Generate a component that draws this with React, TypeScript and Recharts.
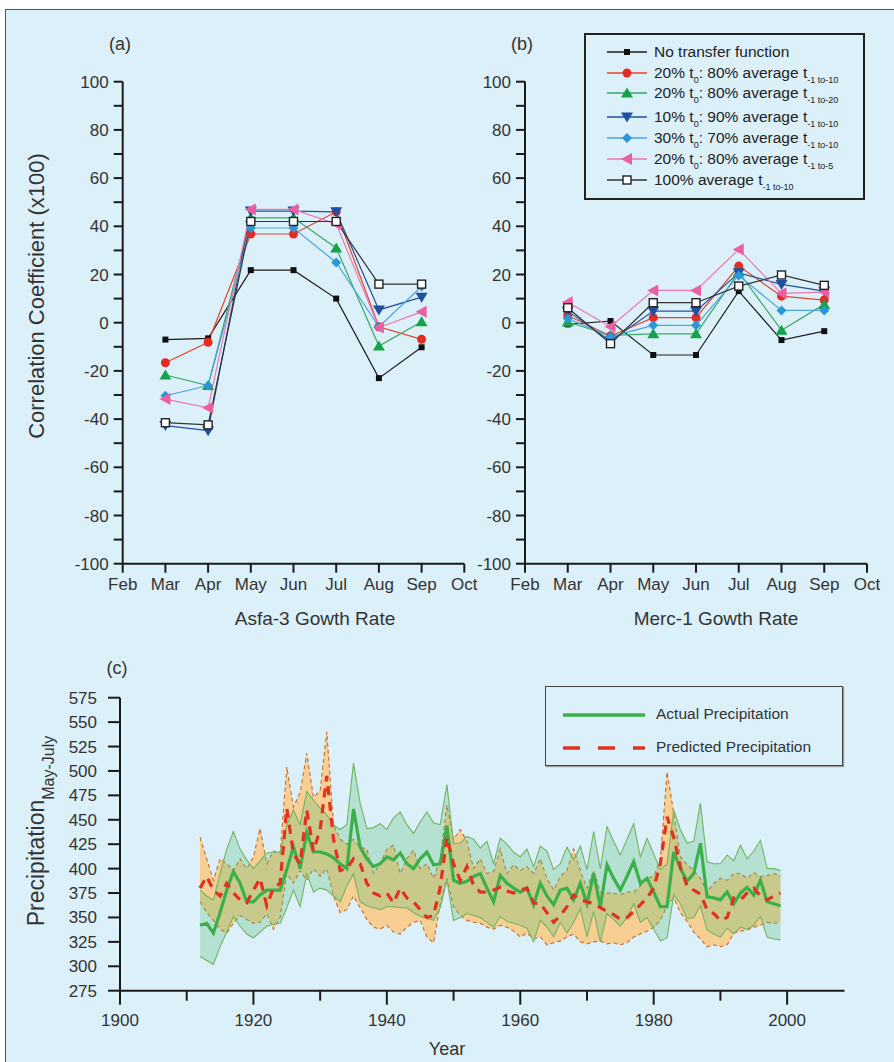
import React from 'react';
import { LineChart, Line, XAxis, YAxis, ComposedChart, Area } from 'recharts';

const FONT = '"Liberation Sans", Arial, sans-serif';
const BG = '#dcf0fa';

// ---- panels (a) and (b): correlation by month ----
const monthNames = ['Feb', 'Mar', 'Apr', 'May', 'Jun', 'Jul', 'Aug', 'Sep', 'Oct'];
const monthTicks = [2, 3, 4, 5, 6, 7, 8, 9, 10];
const months = [3, 4, 5, 6, 7, 8, 9];
const corrTicks = [-100, -90, -80, -70, -60, -50, -40, -30, -20, -10, 0, 10, 20, 30, 40, 50, 60, 70, 80, 90, 100];

const asfaNoTF = [-7, -6.5, 21.8, 21.8, 10, -23, -10.2];
const asfaT10 = [-16.6, -8.1, 36.8, 36.8, 46, -1.7, -6.9];
const asfaT20 = [-21.7, -26.1, 43.5, 43.5, 31, -9.7, 0.4];
const asfa10_90 = [-42.7, -44.8, 46.3, 46.3, 46, 5.3, 10.6];
const asfa30_70 = [-30.3, -26.1, 39.3, 39.3, 25, -1.7, 15];
const asfaT5 = [-31.7, -35.3, 47, 47, 41, -2, 4.5];
const asfaAvg = [-41.5, -42.4, 42, 42, 42, 16, 16];

const mercNoTF = [-0.7, 0.7, -13.4, -13.4, 13.1, -7.2, -3.5];
const mercT10 = [3, -5.5, 2.1, 2.1, 23.5, 11, 9.4];
const mercT20 = [0.3, -5.3, -4.6, -4.6, 21, -3.1, 7.6];
const merc10_90 = [4.8, -7.6, 4.8, 4.8, 20.7, 15.9, 13.1];
const merc30_70 = [1.7, -5.8, -1.1, -1.1, 19.6, 5.1, 5.1];
const mercT5 = [8.5, -1.7, 13.4, 13.4, 30.4, 12.2, 12.7];
const mercAvg = [6.2, -8.7, 8.3, 8.3, 15.2, 19.8, 15.5];

// ---- panel (c): precipitation ----
const years = [
  1912, 1913, 1914, 1915, 1916, 1917, 1918, 1919,
  1920, 1921, 1922, 1923, 1924, 1925, 1926, 1927, 1928, 1929,
  1930, 1931, 1932, 1933, 1934, 1935, 1936, 1937, 1938, 1939,
  1940, 1941, 1942, 1943, 1944, 1945, 1946, 1947, 1948, 1949,
  1950, 1951, 1952, 1953, 1954, 1955, 1956, 1957, 1958, 1959,
  1960, 1961, 1962, 1963, 1964, 1965, 1966, 1967, 1968, 1969,
  1970, 1971, 1972, 1973, 1974, 1975, 1976, 1977, 1978, 1979,
  1980, 1981, 1982, 1983, 1984, 1985, 1986, 1987, 1988, 1989,
  1990, 1991, 1992, 1993, 1994, 1995, 1996, 1997, 1998, 1999,
];
const actual = [
  342, 344, 334, 355, 378, 397, 385, 366,
  366, 373, 378, 378, 378, 399, 422, 400, 437, 417,
  417, 415, 411, 405, 400, 461, 422, 410, 402, 405,
  412, 409, 416, 405, 400, 410, 417, 404, 405, 444,
  388, 385, 387, 392, 395, 380, 366, 393, 385, 380,
  376, 380, 363, 385, 372, 363, 378, 380, 368, 385,
  364, 395, 361, 404, 390, 378, 392, 407, 385, 390,
  376, 361, 361, 417, 400, 387, 395, 426, 371, 370,
  368, 376, 364, 375, 381, 373, 388, 366, 364, 362,
];
const actualHi = [
  378, 372, 368, 395, 420, 438, 420, 409,
  400, 408, 416, 417, 417, 445, 460, 445, 479, 470,
  462, 455, 445, 440, 445, 508, 467, 441, 442, 446,
  440, 452, 458, 445, 436, 448, 458, 447, 445, 486,
  426, 426, 433, 430, 421, 428, 405, 431, 425, 417,
  412, 420, 402, 423, 418, 399, 405, 422, 409, 423,
  399, 438, 400, 443, 428, 414, 430, 446, 412, 431,
  415, 399, 405, 460, 440, 426, 428, 467, 407, 405,
  405, 414, 408, 424, 410, 418, 429, 400, 400, 398,
];
const actualLo = [
  310, 306, 302, 320, 335, 351, 341, 333,
  329, 335, 341, 343, 344, 360, 378, 361, 395, 376,
  380, 378, 372, 366, 382, 395, 366, 362, 360, 358,
  361, 361, 360, 360, 355, 351, 349, 347, 360, 388,
  347, 350, 354, 352, 350, 345, 340, 351, 346, 344,
  342, 339, 325, 347, 340, 330, 345, 334, 345, 359,
  330, 356, 325, 354, 348, 341, 350, 364, 345, 350,
  338, 326, 329, 373, 364, 349, 350, 362, 337, 333,
  330, 339, 333, 340, 338, 342, 351, 330, 328, 327,
];
const predicted = [
  380, 392, 378, 372, 385, 375, 368, 365,
  378, 390, 362, 380, 385, 462, 415, 405, 460, 418,
  440, 495, 430, 398, 400, 410, 405, 385, 375, 372,
  375, 365, 380, 370, 366, 358, 350, 352, 381, 432,
  405, 388, 402, 383, 376, 376, 378, 381, 377, 375,
  378, 380, 365, 364, 355, 345, 352, 361, 373, 368,
  366, 364, 360, 356, 353, 348, 350, 356, 363, 370,
  380, 405, 453, 432, 402, 382, 378, 374, 358, 354,
  347, 350, 370, 368, 375, 380, 372, 368, 372, 375,
];
const predictedHi = [
  432, 410, 388, 410, 405, 398, 410, 400,
  412, 441, 405, 418, 415, 504, 463, 478, 518, 473,
  480, 540, 445, 430, 425, 430, 422, 420, 395, 405,
  420, 424, 395, 410, 419, 400, 405, 390, 410, 465,
  430, 440, 428, 400, 410, 395, 397, 420, 395, 404,
  398, 402, 395, 410, 390, 378, 392, 398, 420, 398,
  380, 398, 376, 375, 375, 373, 376, 376, 382, 390,
  392, 410, 499, 457, 412, 404, 398, 390, 376, 385,
  390, 388, 395, 395, 390, 396, 392, 393, 395, 393,
];
const predictedLo = [
  366, 355, 347, 338, 334, 344, 352, 348,
  344, 345, 354, 338, 350, 395, 385, 398, 388, 400,
  392, 400, 372, 355, 358, 372, 360, 348, 340, 338,
  342, 335, 333, 340, 345, 347, 330, 324, 364, 390,
  361, 352, 347, 345, 344, 340, 338, 342, 340, 336,
  330, 334, 328, 330, 322, 324, 326, 330, 333, 325,
  323, 325, 326, 323, 324, 322, 324, 330, 333, 336,
  340, 347, 362, 370, 355, 346, 335, 328, 320, 322,
  320, 322, 334, 336, 337, 340, 342, 345, 344, 345,
];
const yearTicks = [1900, 1910, 1920, 1930, 1940, 1950, 1960, 1970, 1980, 1990, 2000];
const precipTicks = [275, 300, 325, 350, 375, 400, 425, 450, 475, 500, 525, 550, 575];

const series = [
  { key: 's1', color: '#1c1c1c', kind: 'sq' },
  { key: 's2', color: '#e0452c', kind: 'circle' },
  { key: 's3', color: '#3aa866', kind: 'up' },
  { key: 's4', color: '#24509b', kind: 'down' },
  { key: 's5', color: '#4aa3dc', kind: 'diamond' },
  { key: 's6', color: '#ee77b0', kind: 'left' },
  { key: 's7', color: '#333333', kind: 'open' },
];

const sub = (s: string) => (
  <span style={{ fontSize: 9, position: 'relative', top: 5 }}>{s}</span>
);
const legendLabels = [
  <>No transfer function</>,
  <>20% t{sub('0')}: 80% average t{sub('-1 to-10')}</>,
  <>20% t{sub('0')}: 80% average t{sub('-1 to-20')}</>,
  <>10% t{sub('0')}: 90% average t{sub('-1 to-10')}</>,
  <>30% t{sub('0')}: 70% average t{sub('-1 to-10')}</>,
  <>20% t{sub('0')}: 80% average t{sub('-1 to-5')}</>,
  <>100% average t{sub('-1 to-10')}</>,
];
const legendRowY = [52, 73, 93, 117, 138, 159, 180];

const Marker = ({ kind, cx, cy }: { kind: string; cx: number; cy: number }) => {
  if (cx == null || cy == null) return null;
  switch (kind) {
    case 'sq':
      return <rect x={cx - 3} y={cy - 3} width={6} height={6} fill="#111" />;
    case 'circle':
      return <circle cx={cx} cy={cy} r={4.5} fill="#e42b24" />;
    case 'up':
      return <polygon points={`${cx},${cy - 5.5} ${cx + 6},${cy + 4.5} ${cx - 6},${cy + 4.5}`} fill="#15a24a" />;
    case 'down':
      return <polygon points={`${cx},${cy + 5.5} ${cx + 6},${cy - 4.5} ${cx - 6},${cy - 4.5}`} fill="#1f4f9e" />;
    case 'diamond':
      return <polygon points={`${cx},${cy - 5} ${cx + 5},${cy} ${cx},${cy + 5} ${cx - 5},${cy}`} fill="#2b97d6" />;
    case 'left':
      return <polygon points={`${cx - 6},${cy} ${cx + 5},${cy - 6} ${cx + 5},${cy + 6}`} fill="#ea5fa0" />;
    default:
      return <rect x={cx - 4} y={cy - 4} width={8} height={8} fill="#fff" stroke="#222" strokeWidth={1.4} />;
  }
};

const dotFor = (kind: string) => (p: any) => (
  <g key={`${kind}-${p.index}`}>
    <Marker kind={kind} cx={p.cx} cy={p.cy} />
  </g>
);

const buildMonthRows = (cols: number[][]) =>
  months.map((m, i) => {
    const row: any = { m };
    cols.forEach((c, j) => (row[series[j].key] = c[i]));
    return row;
  });

const asfaRows = buildMonthRows([asfaNoTF, asfaT10, asfaT20, asfa10_90, asfa30_70, asfaT5, asfaAvg]);
const mercRows = buildMonthRows([mercNoTF, mercT10, mercT20, merc10_90, merc30_70, mercT5, mercAvg]);

const precipRows = years.map((year, i) => ({
  year,
  actual: actual[i],
  actualBand: [actualLo[i], actualHi[i]],
  predicted: predicted[i],
  predictedBand: [predictedLo[i], predictedHi[i]],
}));

const axisStroke = { stroke: '#1a1a1a', strokeWidth: 2 };
const tickText = { fill: '#333', fontSize: 17, fontFamily: FONT };

const CorrChart = ({ rows, left, marginLeft, marginRight }: any) => (
  <div style={{ position: 'absolute', left, top: 0 }}>
    <LineChart width={480} height={620} data={rows}
      margin={{ top: 81.7, right: marginRight, bottom: 26.3, left: marginLeft }}>
      <XAxis dataKey="m" type="number" domain={[2, 10]} ticks={monthTicks} interval={0}
        tickFormatter={(v: number) => monthNames[v - 2]} height={30}
        axisLine={axisStroke} tickLine={axisStroke} tickSize={9} tickMargin={5} tick={tickText} />
      <YAxis type="number" domain={[-100, 100]} ticks={corrTicks} interval={0} width={60}
        tickFormatter={(v: number) => (v % 20 === 0 ? String(v) : '')}
        axisLine={axisStroke} tickLine={axisStroke} tickSize={9} tickMargin={5} tick={tickText} />
      {series.map((s) => (
        <Line key={s.key} dataKey={s.key} stroke={s.color} strokeWidth={1.2}
          dot={dotFor(s.kind)} activeDot={false} isAnimationActive={false} />
      ))}
    </LineChart>
  </div>
);

const YearTick = (p: any) => {
  const { x, y, payload } = p;
  const major = payload.value % 20 === 0;
  return (
    <g>
      <line x1={x} x2={x} y1={y} y2={y + (major ? 14 : 10)} stroke="#1a1a1a" strokeWidth={2} />
      {major && (
        <text x={x} y={y + 35} textAnchor="middle" fontSize={17} fill="#333" fontFamily={FONT}>
          {payload.value}
        </text>
      )}
    </g>
  );
};

const App = () => {
  return (
    <div style={{ position: 'absolute', left: 0, top: 0, width: 894, height: 1062, overflow: 'hidden', background: '#fff', fontFamily: FONT }}>
      <div style={{ position: 'absolute', left: 5, top: 9, width: 900, height: 1060, border: '1px solid #555', background: BG }} />

      <CorrChart rows={asfaRows} left={0} marginLeft={62.7} marginRight={15.7} />
      <CorrChart rows={mercRows} left={400} marginLeft={65} marginRight={13} />

      {/* legend for (a)/(b) */}
      <div style={{ position: 'absolute', left: 584, top: 33, width: 281, height: 167, boxSizing: 'border-box', border: '2px solid #222' }}>
        {series.map((s, i) => (
          <div key={s.key} style={{ position: 'absolute', left: 0, top: legendRowY[i] - 33 - 12, height: 20, display: 'flex', alignItems: 'center', whiteSpace: 'nowrap' }}>
            <svg width={68} height={20} style={{ flex: 'none' }}>
              <line x1={21} x2={61} y1={10} y2={10} stroke={s.color} strokeWidth={1.4} />
              <Marker kind={s.kind} cx={41} cy={10} />
            </svg>
            <span style={{ fontSize: 15.5, color: '#222' }}>{legendLabels[i]}</span>
          </div>
        ))}
      </div>

      <div style={{ position: 'absolute', left: 0, top: 640 }}>
        <ComposedChart width={894} height={422} data={precipRows}
          margin={{ top: 57.7, right: 49.5, bottom: 31.3, left: 60 }}>
          <XAxis dataKey="year" type="number" domain={[1900, 2008.6]} ticks={yearTicks} interval={0}
            height={40} axisLine={axisStroke} tickLine={false} tickSize={0} tickMargin={0}
            tick={(p: any) => <YearTick {...p} />} />
          <YAxis type="number" domain={[275, 575]} ticks={precipTicks} interval={0} width={60}
            axisLine={axisStroke} tickLine={axisStroke} tickSize={12} tickMargin={11} tick={tickText} />
          <Area dataKey="predictedBand" type="linear" fill="#f8cc8a" fillOpacity={0.92}
            stroke="#c46a34" strokeWidth={1.1} strokeDasharray="4 3" isAnimationActive={false} activeDot={false} />
          <Area dataKey="actualBand" type="linear" fill="#5cc07a" fillOpacity={0.3}
            stroke="#72b460" strokeWidth={1.1} isAnimationActive={false} activeDot={false} />
          <Line dataKey="actual" type="linear" stroke="#3bb04a" strokeWidth={3.2} dot={false}
            activeDot={false} isAnimationActive={false} />
          <Line dataKey="predicted" type="linear" stroke="#e0321f" strokeWidth={3.2} strokeDasharray="9 7"
            dot={false} activeDot={false} isAnimationActive={false} />
        </ComposedChart>
      </div>

      {/* legend for (c) */}
      <div style={{ position: 'absolute', left: 545, top: 686, width: 298, height: 80, boxSizing: 'border-box', border: '1.5px solid #444', boxShadow: '1px 1px 1px #999' }}>
        <svg width={110} height={78} style={{ position: 'absolute', left: 0, top: 0 }}>
          <line x1={17} x2={99} y1={28} y2={28} stroke="#3bb04a" strokeWidth={3.5} />
          <line x1={17} x2={99} y1={61} y2={61} stroke="#e0321f" strokeWidth={3.5} strokeDasharray="17 18" />
        </svg>
        <div style={{ position: 'absolute', left: 110, top: 18, fontSize: 15.5, color: '#333' }}>Actual Precipitation</div>
        <div style={{ position: 'absolute', left: 110, top: 51, fontSize: 15.5, color: '#333' }}>Predicted Precipitation</div>
      </div>

      <svg width={894} height={1062} style={{ position: 'absolute', left: 0, top: 0, pointerEvents: 'none' }} fontFamily={FONT} fill="#333">
        <text x={120} y={50} fontSize={18} textAnchor="middle">(a)</text>
        <text x={522} y={50} fontSize={18} textAnchor="middle">(b)</text>
        <text x={117} y={674} fontSize={18} textAnchor="middle">(c)</text>
        <text x={315} y={625} fontSize={19} textAnchor="middle">Asfa-3 Gowth Rate</text>
        <text x={716} y={625} fontSize={19} textAnchor="middle">Merc-1 Gowth Rate</text>
        <text x={447} y={1055} fontSize={18} textAnchor="middle">Year</text>
        <text transform="translate(44,296) rotate(-90)" fontSize={22} textAnchor="middle">Correlation Coefficient (x100)</text>
        <text transform="translate(44,831) rotate(-90)" fontSize={23} textAnchor="middle">
          Precipitation<tspan fontSize={16} dy={10}>May-July</tspan>
        </text>
      </svg>
    </div>
  );
};

export default App;
